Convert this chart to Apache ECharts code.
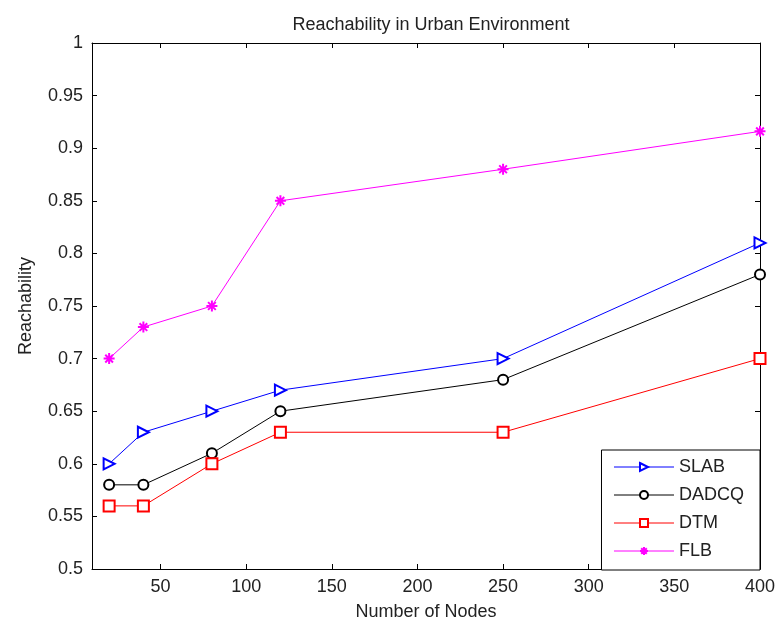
<!DOCTYPE html>
<html>
<head>
<meta charset="utf-8">
<script src="https://cdn.jsdelivr.net/npm/echarts@6/dist/echarts.min.js"></script>
<style>
  html, body { margin: 0; padding: 0; background: #fff; }
  #main { width: 781px; height: 626px; }
</style>
</head>
<body>
<div id="main"></div>
<script>
// number of nodes
const nodes = [20, 40, 80, 120, 250, 400];
const xTicks = [50, 100, 150, 200, 250, 300, 350, 400];

const slab = [0.60, 0.63, 0.65, 0.67, 0.70, 0.81];
const dadcq = [0.58, 0.58, 0.61, 0.65, 0.68, 0.78];
const dtm = [0.56, 0.56, 0.60, 0.63, 0.63, 0.70];
const flb = [0.70, 0.73, 0.75, 0.85, 0.88, 0.916];

const FONT = 'Liberation Sans';
const TXT = '#222';

// MATLAB-ish markers
const triRight = 'emptypath://M0,0 L10,5 L0,10 Z';
const asterisk = 'emptypath://M5,0 L5,10 M0,5 L10,5 M1.5,1.5 L8.5,8.5 M1.5,8.5 L8.5,1.5';

function pairs(ys) {
  return nodes.map((x, i) => [x, ys[i]]);
}

function makeSeries(name, ys, color, symbol, size) {
  return {
    name: name,
    type: 'line',
    data: pairs(ys),
    symbol: symbol,
    symbolSize: size,
    showAllSymbol: true,
    lineStyle: { color: color, width: 1 },
    itemStyle: { color: color, borderColor: color, borderWidth: 1 },
    emphasis: { disabled: true },
    animation: false
  };
}

const chart = echarts.init(document.getElementById('main'));

const tickStyle = { show: true, inside: true, length: 5, lineStyle: { color: '#000', width: 1 } };

chart.setOption({
  backgroundColor: '#fff',
  animation: false,
  title: {
    text: 'Reachability in Urban Environment',
    left: 426,
    textAlign: 'center',
    top: 11,
    textStyle: { fontFamily: FONT, fontSize: 18, fontWeight: 'normal', color: TXT }
  },
  grid: { left: 92, right: 21, top: 43, bottom: 56 },
  legend: {
    orient: 'vertical',
    right: 21,
    bottom: 56,
    itemWidth: 60,
    itemHeight: 10,
    itemGap: 10,
    padding: [8, 16, 10, 12],
    borderColor: '#000',
    borderWidth: 1,
    backgroundColor: '#fff',
    lineStyle: { width: 1 },
    itemStyle: { borderWidth: 1 },
    textStyle: { fontFamily: FONT, fontSize: 18, lineHeight: 18, color: TXT },
    data: ['SLAB', 'DADCQ', 'DTM', 'FLB']
  },
  xAxis: [
    {
      type: 'value',
      min: 10,
      max: 400,
      name: 'Number of Nodes',
      nameLocation: 'middle',
      nameGap: 34,
      nameTextStyle: { fontFamily: FONT, fontSize: 18, color: TXT },
      axisLine: { lineStyle: { color: '#000', width: 1 } },
      axisTick: Object.assign({ customValues: xTicks }, tickStyle),
      axisLabel: { customValues: xTicks, fontFamily: FONT, fontSize: 18, color: TXT, margin: 9 },
      splitLine: { show: false }
    },
    {
      type: 'value',
      position: 'top',
      min: 10,
      max: 400,
      axisLine: { lineStyle: { color: '#000', width: 1 } },
      axisTick: Object.assign({ customValues: xTicks }, tickStyle),
      axisLabel: { show: false },
      splitLine: { show: false }
    }
  ],
  yAxis: [
    {
      type: 'value',
      min: 0.5,
      max: 1,
      interval: 0.05,
      name: 'Reachability',
      nameLocation: 'middle',
      nameGap: 57,
      nameTextStyle: { fontFamily: FONT, fontSize: 18, color: TXT },
      axisLine: { show: true, lineStyle: { color: '#000', width: 1 } },
      axisTick: tickStyle,
      axisLabel: { fontFamily: FONT, fontSize: 18, color: TXT, margin: 9 },
      splitLine: { show: false }
    },
    {
      type: 'value',
      position: 'right',
      min: 0.5,
      max: 1,
      interval: 0.05,
      axisLine: { show: true, lineStyle: { color: '#000', width: 1 } },
      axisTick: tickStyle,
      axisLabel: { show: false },
      splitLine: { show: false }
    }
  ],
  series: [
    makeSeries('SLAB', slab, '#0000ff', triRight, 11),
    makeSeries('DADCQ', dadcq, '#000000', 'emptyCircle', 10),
    makeSeries('DTM', dtm, '#ff0000', 'emptyRect', 11),
    makeSeries('FLB', flb, '#ff00ff', asterisk, 11)
  ]
});
</script>
</body>
</html>
